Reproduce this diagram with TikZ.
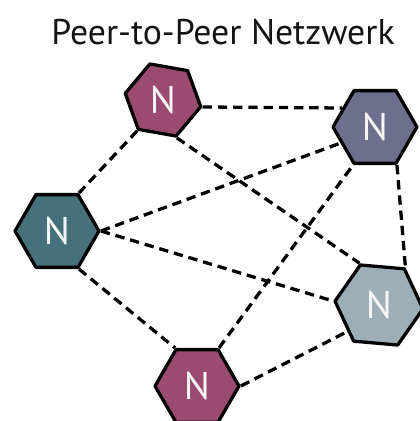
\documentclass[tikz,border=0pt]{standalone}
\usepackage{fontspec}
\setmainfont{PT Sans}
\usetikzlibrary{shapes.geometric}

\definecolor{beere}{HTML}{9B4B6F}
\definecolor{schiefer}{HTML}{6E6F8D}
\definecolor{petrol}{HTML}{46717A}
\definecolor{eisgrau}{HTML}{9CAEB7}

\begin{document}
\begin{tikzpicture}[x=0.03cm,y=-0.03cm]
		\tikzstyle{knoten} = [regular polygon,regular polygon sides=6,draw,line width=2.8pt,line join=round,minimum size=2.52cm,inner sep=0pt,text=white!92!gray,font=\fontsize{33}{33}\selectfont]
		\tikzstyle{verbindung} = [line width=2.8pt,dash pattern=on 8pt off 5pt]
		
		\useasboundingbox (0,0) rectangle (419,421);
		
		\node[font=\fontsize{30.5}{32}\selectfont,text=black!92](titel) at (223,32) {Peer-to-Peer Netzwerk};
		
		\node[knoten,fill=beere,minimum size=2.3cm,shape border rotate=-10](A) at (163,100) {N};
		\node[knoten,fill=schiefer](B) at (375,127) {N};
		\node[knoten,fill=petrol](C) at (57,231) {N};
		\node[knoten,fill=eisgrau,minimum size=2.65cm,shape border rotate=-5](D) at (379,305) {N};
		\node[knoten,fill=beere](E) at (197,386) {N};
		
		\draw[verbindung] (A.-10) -- (B.150);
		\draw[verbindung] (A.230) -- (C.60);
		\draw[verbindung] (A.290) -- (D.115);
		\draw[verbindung] (C.0) -- (B.205);
		\draw[verbindung] (C.0) -- (D.175);
		\draw[verbindung] (C.300) -- (E.120);
		\draw[verbindung] (E.60) -- (B.240);
		\draw[verbindung] (E.0) -- (D.220);
		\draw[verbindung] (B.300) -- (D.55);
		\end{tikzpicture}
\end{document}
